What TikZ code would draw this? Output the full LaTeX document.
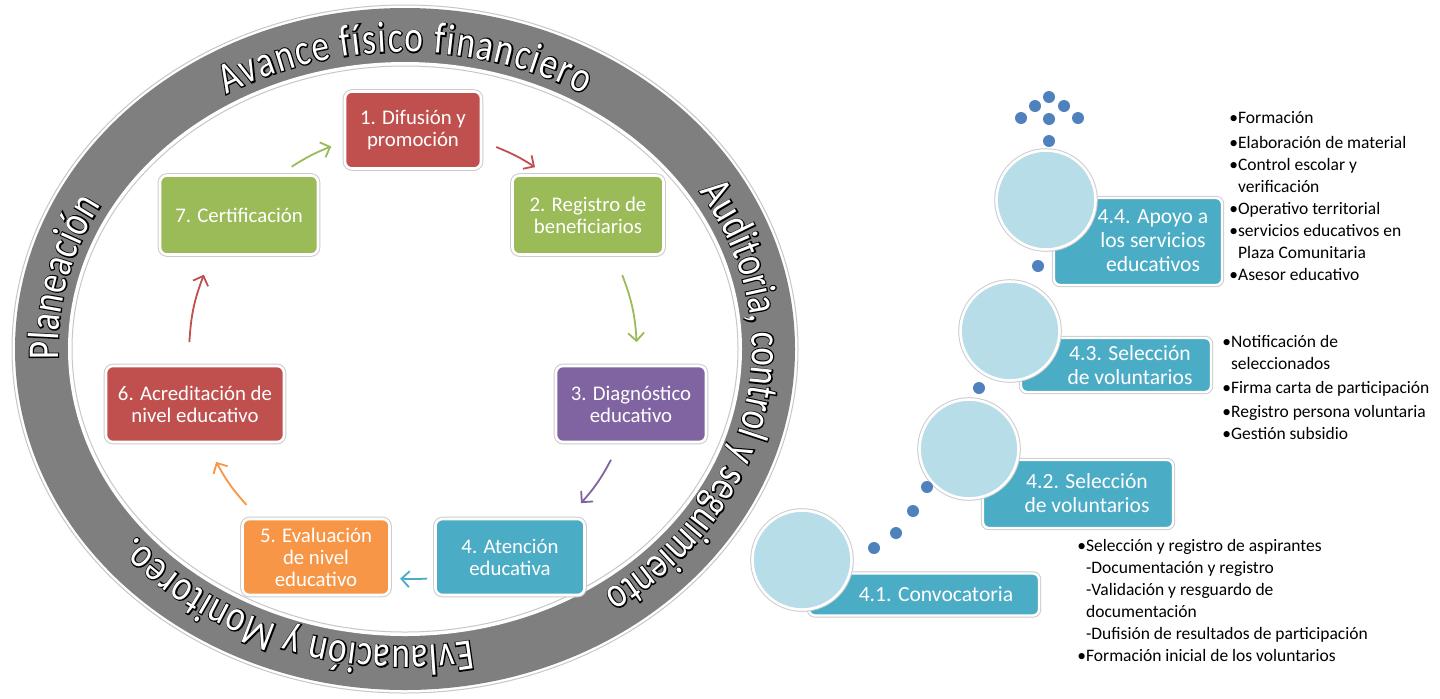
\documentclass[tikz,border=0pt]{standalone}
\usepackage{fontspec}
\setmainfont{Carlito}
\newfontfamily\ringthin{Carlito}[FakeStretch=0.8]
\newfontfamily\ringbold{Carlito}[FakeStretch=0.8,FakeBold=5]
\usepackage{tikz}
\usetikzlibrary{arrows.meta}
\usetikzlibrary{decorations.text}
\usetikzlibrary{positioning}

\definecolor{ringgray}{HTML}{7F7F7F}
\definecolor{cycred}{HTML}{C0504D}
\definecolor{cycgreen}{HTML}{9BBB59}
\definecolor{cycpurple}{HTML}{8064A2}
\definecolor{cycblue}{HTML}{4BACC6}
\definecolor{cycorange}{HTML}{F79646}
\definecolor{discblue}{HTML}{B7DDE8}
\definecolor{dotblue}{HTML}{4F81BD}

\newcommand\ringsize{\fontsize{22}{23}\selectfont}
\newcommand\subind{\phantom{•}}
\newcommand\ringlabel[3]{%
  \path[decorate, decoration={text along path, text align=fit to path, text color=black,
    text={|\ringbold\ringsize|#3}}]
    (ringc) ++(#1:347 and 297) arc[start angle=#1, end angle=#2, x radius=347, y radius=297];
  \path[decorate, decoration={text along path, text align=fit to path, text color=white,
    text={|\ringthin\ringsize|#3}}]
    (ringc) ++(#1:347 and 297) arc[start angle=#1, end angle=#2, x radius=347, y radius=297];}

\tikzset{
  cyclebox/.style={rounded corners=3.5pt, draw=white, line width=1.3pt,
    preaction={draw=black!20, line width=2.3pt}, text=white,
    font=\fontsize{10.4}{11}\selectfont, align=center, inner sep=0pt},
  cycarrow/.style={line width=0.9pt, -{Straight Barb[length=4pt,width=8pt]}},
  stepdisc/.style={circle, fill=discblue, draw=white, line width=1.3pt,
    preaction={draw=black!20, line width=2.3pt}, minimum size=49.5pt, inner sep=0pt},
  steprect/.style={rounded corners=3pt, fill=cycblue, draw=white, line width=1.2pt,
    preaction={draw=black!20, line width=2.2pt}, inner sep=0pt},
  steplabel/.style={text=white, font=\fontsize{10.8}{12}\selectfont, align=center, inner sep=0pt},
  stepdot/.style={circle, fill=dotblue, minimum size=6pt, inner sep=0pt},
  steplist/.style={anchor=north west, font=\fontsize{8.75}{11}\selectfont, align=left, inner sep=0pt}
}

\begin{document}
\begin{tikzpicture}[x=0.5pt,y=0.5pt]
\path[use as bounding box] (0,0) rectangle (1440,-698);

\coordinate (ringc) at (405,-349);
\filldraw[fill=white, draw=black!22, line width=0.5pt] (ringc) ellipse[x radius=393, y radius=344];
\fill[ringgray] (ringc) ellipse[x radius=390, y radius=341];
\fill[white] (ringc) ellipse[x radius=337, y radius=287];
\draw[black!22, line width=0.5pt] (ringc) ellipse[x radius=333, y radius=283];

\ringlabel{182}{151}{Planeación}
\ringlabel{121}{59}{Avance físico financiero}
\ringlabel{32}{-55}{Auditoria, control y seguimiento}
\ringlabel{281}{219}{Evlauación y Monitoreo.}

\node[cyclebox, fill=cycred, minimum width=68pt, minimum height=38.5pt] (b1) at (413,-130) {1. Difusión y\\promoción};
\node[cyclebox, fill=cycgreen, minimum width=75.5pt, minimum height=39.5pt] (b2) at (588,-215) {2. Registro de\\beneficiarios};
\node[cyclebox, fill=cycpurple, minimum width=75pt, minimum height=38pt] (b3) at (631,-404) {3. Diagnóstico\\educativo};
\node[cyclebox, fill=cycblue, minimum width=74.5pt, minimum height=38pt] (b4) at (510,-557) {4. Atención\\educativa};
\node[cyclebox, fill=cycorange, minimum width=73.5pt, minimum height=38pt] (b5) at (316,-557) {5. Evaluación\\de nivel\\educativo};
\node[cyclebox, fill=cycred, minimum width=89pt, minimum height=38pt] (b6) at (195,-404) {6. Acreditación de\\nivel educativo};
\node[cyclebox, fill=cycgreen, minimum width=79pt, minimum height=39.5pt] (b7) at (239,-215) {7. Certificación};

\coordinate (cyc) at (413,-355);
\foreach \src/\from/\to/\col in {7/122.8/111.4/cycgreen, 1/68.2/57/cycred, 2/20.9/3.3/cycgreen,
    3/-27.9/-41.4/cycpurple, 4/-86.4/-93.3/cycblue, 5/-138/-151.5/cycorange, 6/176.7/159/cycred}{
  \pgfmathsetmacro\bend{(\from-\to)/2}
  \path (cyc) ++(\from:224) coordinate (arr\src-start);
  \path (cyc) ++(\to:224) coordinate (arr\src-end);
  \draw[cycarrow, \col] (arr\src-start) to[bend left=\bend] (arr\src-end);
}

\node[steprect, minimum width=115pt, minimum height=21pt] (r41) at (924,-594.5) {};
\node[stepdisc] (c41) at (802,-560) {};
\node[steplabel] (t41) at (936,-594) {4.1. Convocatoria};

\node[steprect, minimum width=95pt, minimum height=34pt] (r42) at (1078,-494) {};
\node[stepdisc] (c42) at (969,-449) {};
\node[steplabel] (t42) at (1087,-493) {4.2. Selección\\de voluntarios};

\node[steprect, minimum width=95pt, minimum height=27pt] (r43) at (1116,-365) {};
\node[stepdisc] (c43) at (1010,-331) {};
\node[steplabel] (t43) at (1130,-365) {4.3. Selección\\de voluntarios};

\node[steprect, minimum width=84pt, minimum height=43.5pt] (r44) at (1138,-241.5) {};
\node[stepdisc] (c44) at (1046,-200) {};
\node[steplabel] (t44) at (1153,-241) {4.4. Apoyo a\\los servicios\\educativos};

\foreach \dx/\dy [count=\i] in {874/548, 896/533, 913/511, 927/487, 979/388, 1038/266,
    1049/141, 1021/118, 1049/119, 1078/118, 1035/106, 1064/106, 1049/97}
  \node[stepdot] (dot\i) at (\dx,-\dy) {};

\node[steplist] (l44) at (1229,-111) {•Formación\\[1.5pt]•Elaboración de material\\•Control escolar y\\\subind verificación\\•Operativo territorial\\•servicios educativos en\\\subind Plaza Comunitaria\\•Asesor educativo};
\node[steplist] (l43) at (1222,-335) {•Notificación de\\\subind seleccionados\\[1pt]•Firma carta de participación\\[1pt]•Registro persona voluntaria\\•Gestión subsidio};
\node[steplist] (l41) at (1077,-539) {•Selección y registro de aspirantes\\\subind -Documentación y registro\\\subind -Validación y resguardo de\\\subind documentación\\\subind -Dufisión de resultados de participación\\•Formación inicial de los voluntarios};
\end{tikzpicture}
\end{document}
